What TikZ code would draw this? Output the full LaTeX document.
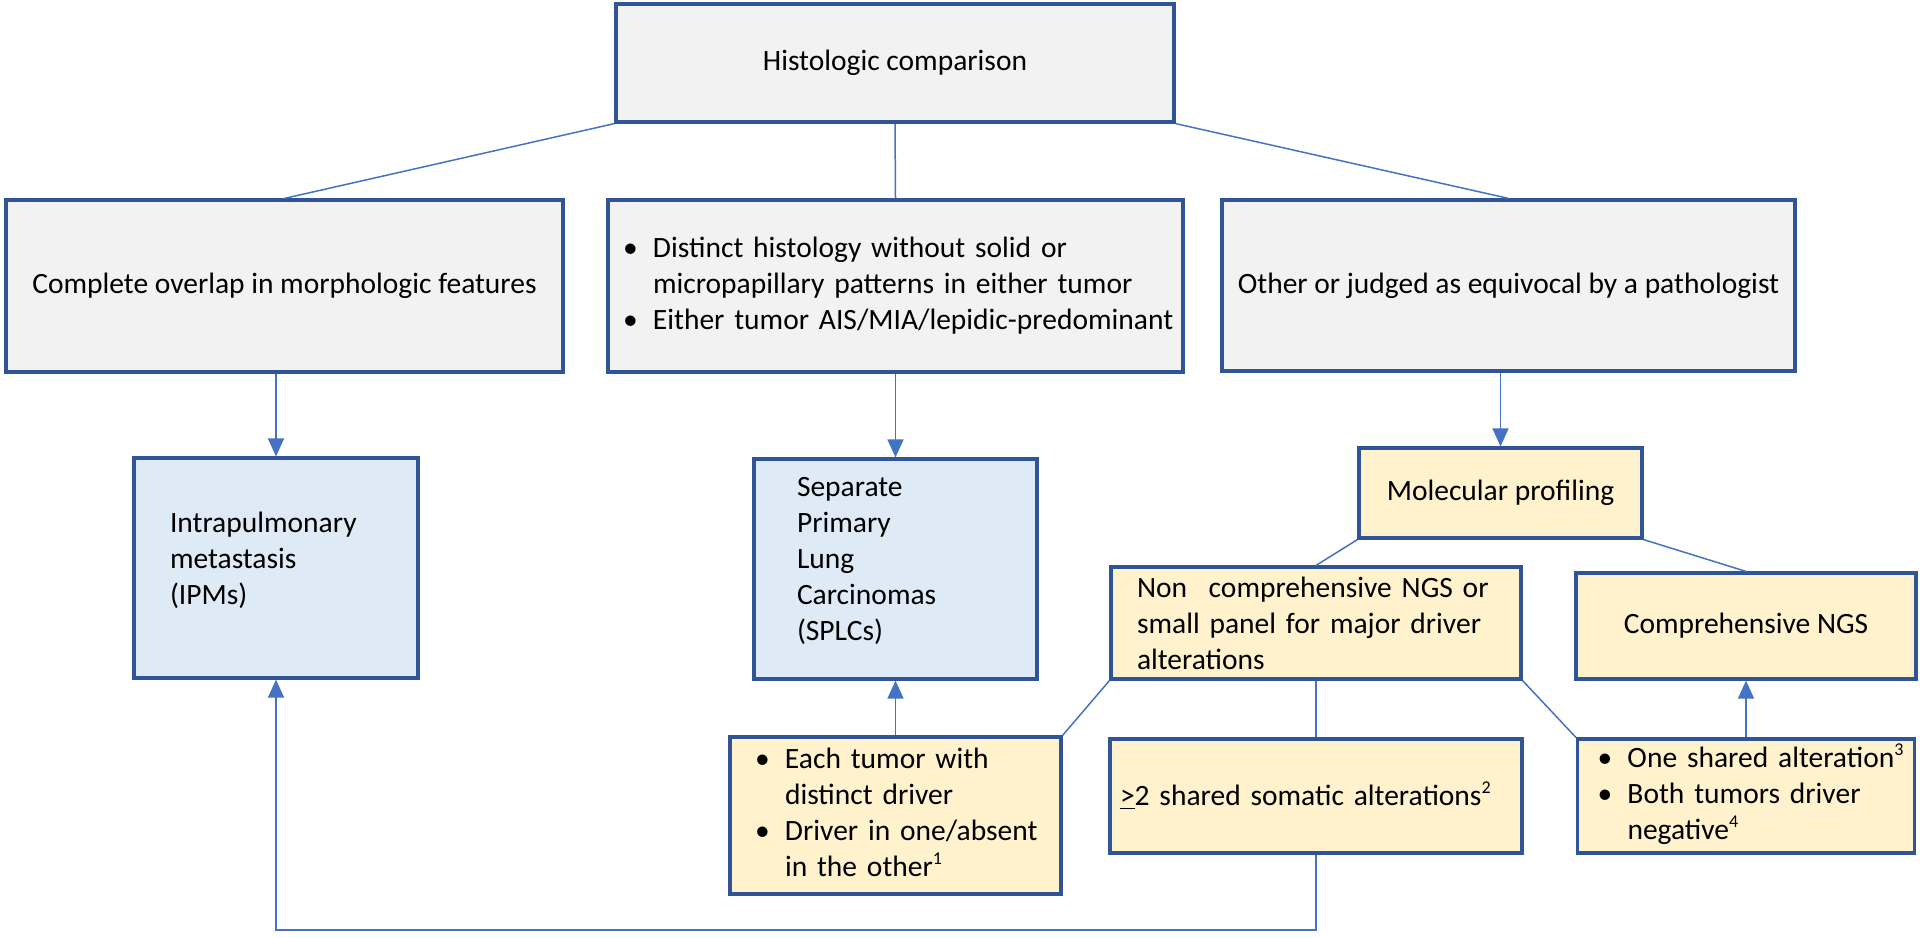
\documentclass[tikz,border=0pt]{standalone}
\usepackage{fontspec}
\setmainfont{Carlito}
\usetikzlibrary{arrows.meta}

\definecolor{boxline}{HTML}{2F5597}
\definecolor{conline}{HTML}{4472C4}
\definecolor{grayfill}{HTML}{F2F2F2}
\definecolor{bluefill}{HTML}{DEEBF7}
\definecolor{yellowfill}{HTML}{FFF2CC}

\newenvironment{blist}{\begin{tabular}{@{}p{15pt}@{}l@{}}}{\end{tabular}}
\newcommand{\fnmark}[1]{\raisebox{0.85ex}{\fontsize{9}{9}\selectfont #1}}

\begin{document}
\begin{tikzpicture}[x=0.5pt,y=-0.5pt,
    every node/.style={font=\fontsize{14.75}{18}\selectfont},
    box/.style={draw=boxline,line width=1.6pt,inner sep=0pt},
    graybox/.style={box,fill=grayfill},
    bluebox/.style={box,fill=bluefill,align=left},
    yellowbox/.style={box,fill=yellowfill},
    sz/.style 2 args={minimum width=#1,minimum height=#2},
    con/.style={conline,line width=0.75pt},
    arr/.style={con,-{Triangle[length=9pt,width=8pt]}}]
    \useasboundingbox (0,0) rectangle (1920,937);

    % histology row
    \node[graybox,sz={279pt}{59pt}] (hist) at (895,63) {Histologic comparison};
    \node[graybox,sz={278.5pt}{86pt}] (overlap) at (284.5,286) {Complete overlap in morphologic features};
    \node[graybox,sz={287.5pt}{86pt},text width=272.5pt,align=left] (distinct) at (895.5,286)
        {\begin{blist}\textbullet & Distinct histology without solid or\\ & micropapillary patterns in either tumor\\ \textbullet & Either tumor AIS/MIA/lepidic-predominant\end{blist}};
    \node[graybox,sz={286.5pt}{85.5pt}] (other) at (1508.5,285.5) {Other or judged as equivocal by a pathologist};

    % outcomes
    \node[bluebox,sz={142pt}{110pt},text width=106pt] (ipm) at (276,568) {Intrapulmonary\\metastasis\\(IPMs)\par\vspace{-8pt}\null};
    \node[bluebox,sz={141.5pt}{110pt},text width=98.5pt] (splc) at (895.5,569) {Separate\\Primary\\Lung\\Carcinomas\\(SPLCs)\par\vspace{-8pt}\null};

    % molecular branch
    \node[yellowbox,sz={141.5pt}{45pt}] (mol) at (1500.5,493) {Molecular profiling};
    \node[yellowbox,sz={205pt}{56pt},text width=179pt,align=left] (noncomp) at (1316,623)
        {Non\hspace{0.4em} comprehensive NGS or\\small panel for major driver\\alterations};
    \node[yellowbox,sz={170pt}{53pt}] (compngs) at (1746,626) {Comprehensive NGS};
    \node[yellowbox,sz={165.5pt}{78.5pt},text width=140.5pt,align=left] (ddriver) at (895.5,815.5)
        {\begin{blist}\textbullet & Each tumor with\\ & distinct driver\\ \textbullet & Driver in one/absent\\ & in the other\fnmark{1}\end{blist}};
    \node[yellowbox,sz={206pt}{57pt},text width=196pt,align=left] (shared2) at (1316,796)
        {\underline{>}2 shared somatic alterations\fnmark{2}};
    \node[yellowbox,sz={168.5pt}{57pt},text width=148.5pt,align=left] (oneshared) at (1746,796)
        {\begin{blist}\textbullet & One shared alteration\fnmark{3}\\ \textbullet & Both tumors driver\\ & negative\fnmark{4}\end{blist}};

    \draw[con] (hist.south west) -- (overlap.north);
    \draw[con] (hist.south) -- (distinct.north);
    \draw[con] (hist.south east) -- (other.north);
    \draw[arr] (ipm.north |- overlap.south) -- (ipm.north);
    \draw[arr] (distinct.south) -- (splc.north);
    \draw[arr] (mol.north |- other.south) -- (mol.north);

    \draw[con] (mol.south west) -- (noncomp.north);
    \draw[con] (mol.south east) -- (compngs.north);
    \draw[con] (noncomp.south west) -- (ddriver.north east);
    \draw[con] (noncomp.south) -- (shared2.north);
    \draw[con] (noncomp.south east) -- (oneshared.north west);
    \draw[arr] (ddriver.north) -- (splc.south);
    \draw[arr] (oneshared.north) -- (compngs.south);

    % back to IPMs
    \coordinate (back) at (276,930);
    \draw[arr] (shared2.south) |- (back) -- (ipm.south);
\end{tikzpicture}
\end{document}
